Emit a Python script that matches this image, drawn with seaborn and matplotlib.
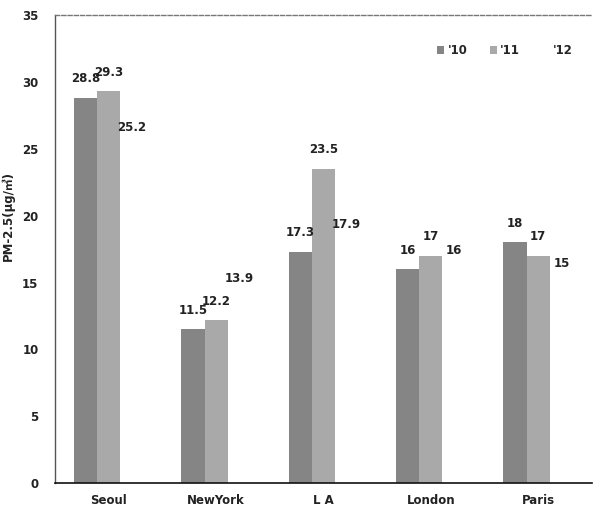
import matplotlib
matplotlib.use("Agg")
import matplotlib.pyplot as plt
import seaborn as sns
import pandas as pd

cities = ["Seoul", "NewYork", "L A", "London", "Paris"]
years = ["'10", "'11", "'12"]
pm_10 = [28.8, 11.5, 17.3, 16, 18]
pm_11 = [29.3, 12.2, 23.5, 17, 17]
pm_12 = [25.2, 13.9, 17.9, 16, 15]
y_ticks = [0, 5, 10, 15, 20, 25, 30, 35]

df = pd.DataFrame({
    "city": cities * 3,
    "year": [years[0]] * 5 + [years[1]] * 5 + [years[2]] * 5,
    "value": pm_10 + pm_11 + pm_12,
})

sns.set_style("white")
plt.rcParams["font.family"] = ["DejaVu Sans", "Noto Sans CJK KR"]

fig = plt.figure(figsize=(5.93, 5.19), dpi=100)
ax = fig.add_axes([0.093, 0.069, 0.905, 0.902])

palette = ["#858585", "#a9a9a9", "#ffffff"]
sns.barplot(data=df, x="city", y="value", hue="year", palette=palette,
            width=0.65, saturation=1, linewidth=0, ax=ax, legend=True)

for cont in ax.containers:
    labels = [f"{v:g}" for v in cont.datavalues]
    ax.bar_label(cont, labels=labels, padding=9, fontsize=8.5,
                 fontweight="bold", color="#222222")

ax.set_xlim(-0.5, 4.5)
ax.set_ylim(0, 35)
ax.set_yticks(y_ticks)
ax.set_xlabel("")
ax.set_ylabel("PM-2.5(μg/㎥)", fontsize=8.5, fontweight="bold", color="#222222")
ax.yaxis.set_label_coords(-0.075, 0.57)

ax.tick_params(axis="both", labelsize=8.5, colors="#222222")
for lab in ax.get_xticklabels() + ax.get_yticklabels():
    lab.set_fontweight("bold")
ax.tick_params(axis="y", direction="out", length=4, width=0.8, color="#888888", pad=8)
ax.tick_params(axis="x", length=0, pad=8)

for side in ["left", "bottom"]:
    ax.spines[side].set_visible(True)
    ax.spines[side].set_color("#555555")
ax.spines["bottom"].set_color("#111111")
ax.spines["bottom"].set_linewidth(1.2)
ax.spines["left"].set_linewidth(1.0)
ax.spines["right"].set_visible(False)
ax.spines["top"].set_visible(True)
ax.spines["top"].set_linestyle((0, (3, 1.5)))
ax.spines["top"].set_color("#777777")
ax.spines["top"].set_linewidth(1.0)

handles, labels = ax.get_legend_handles_labels()
ax.legend(handles, labels, ncol=3, frameon=False, loc="upper right",
          bbox_to_anchor=(0.985, 0.96), handlelength=0.6, handleheight=0.6,
          handletextpad=0.3, columnspacing=1.9,
          prop={"size": 8.5, "weight": "bold"})

fig.savefig("out.png", dpi=100)
